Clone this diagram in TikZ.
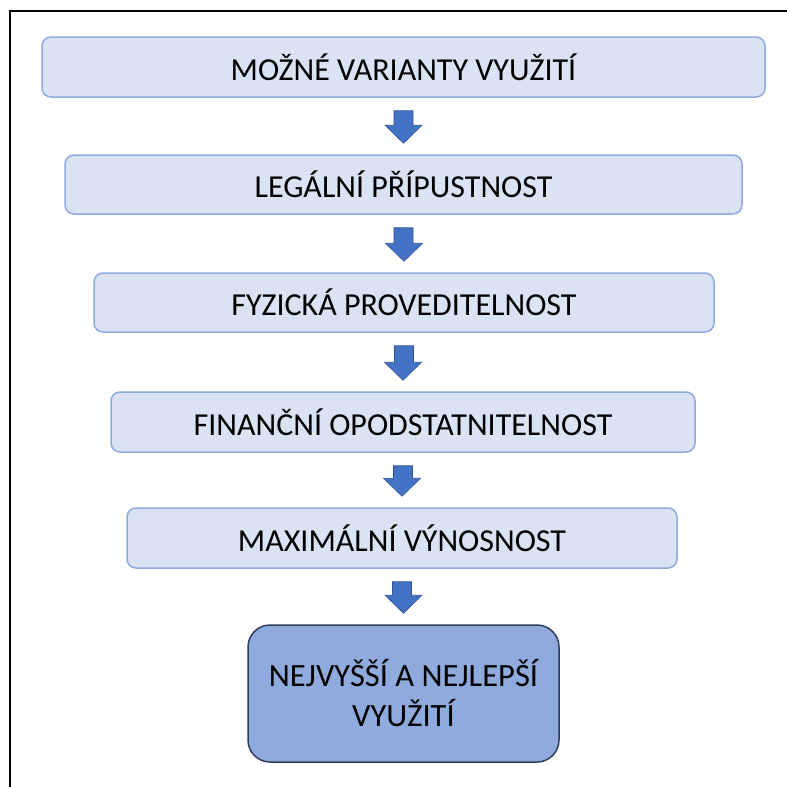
\documentclass[tikz,border=0pt]{standalone}
\usepackage{fontspec}
\usetikzlibrary{calc}
\setmainfont{Carlito}
\definecolor{lightfill}{HTML}{DAE3F3}
\definecolor{lightedge}{HTML}{8FAADC}
\definecolor{darkfill}{HTML}{8FAADC}
\definecolor{darkedge}{HTML}{2F3E5A}
\definecolor{arrowfill}{HTML}{4472C4}
\definecolor{arrowedge}{HTML}{2F528F}
\tikzset{
  stepbox/.style={draw=lightedge, fill=lightfill, line width=1.5pt, rounded corners=9pt, inner sep=0pt, font=\fontsize{32}{38}\selectfont},
  finalbox/.style={draw=darkedge, fill=darkfill, line width=1.5pt, rounded corners=22pt, inner sep=0pt, align=center, font=\fontsize{32.5}{40}\selectfont},
  downarrow/.style={fill=arrowfill, draw=arrowedge, line width=0.6pt}
}
\begin{document}
\begin{tikzpicture}[x=1pt,y=-1pt]
\useasboundingbox (0,0) rectangle (787,787);
\draw[line width=1.2pt] (10,787) -- (10,11) -- (787,11);
\node[stepbox, minimum width=723pt, minimum height=60pt] (b1) at (403.5,67) {MOŽNÉ VARIANTY VYUŽITÍ};
\node[stepbox, minimum width=677pt, minimum height=59pt] (b2) at (403.5,184.5) {LEGÁLNÍ PŘÍPUSTNOST};
\node[stepbox, minimum width=620pt, minimum height=59pt] (b3) at (404,302.5) {FYZICKÁ PROVEDITELNOST};
\node[stepbox, minimum width=584pt, minimum height=60pt] (b4) at (403,422) {FINANČNÍ OPODSTATNITELNOST};
\node[stepbox, minimum width=550pt, minimum height=60pt] (b5) at (402,538) {MAXIMÁLNÍ VÝNOSNOST};
\node[finalbox, minimum width=311pt, minimum height=137pt] (b6) at (403.5,693.5) {NEJVYŠŠÍ A NEJLEPŠÍ\\VYUŽITÍ};
\foreach \a/\b in {b1/b2,b2/b3,b3/b4,b4/b5,b5/b6}{
  \coordinate (top) at ($(\a.south)+(0,13)$);
  \coordinate (tip) at ($(\b.north)+(0,-11)$);
  \draw[downarrow] ($(top)+(-9.5,0)$) -- ($(top)+(9.5,0)$) |- ($(tip)+(18.5,-18)$) -- (tip) -- ($(tip)+(-18.5,-18)$) -| ($(top)+(-9.5,0)$) -- cycle;
}
\end{tikzpicture}
\end{document}
